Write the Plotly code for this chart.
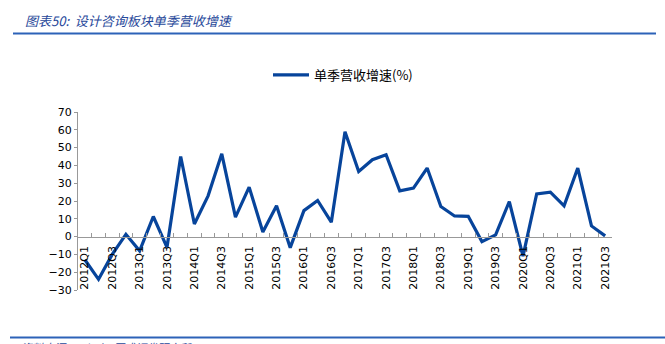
import plotly.graph_objects as go

quarters = [f"{y}Q{q}" for y in range(2012, 2022) for q in range(1, 5)][:39]
growth = [-13, -24, -10, 1.3, -8, 11.3, -6, 45, 7.1, 22.9, 46.5, 10.9, 27.8, 2.6,
          17.3, -6.2, 14.6, 20.3, 8.1, 58.9, 36.6, 43.2, 46, 25.7, 27.2, 38.5,
          16.9, 11.6, 11.4, -2.8, 1, 19.7, -11, 24, 25, 17.3, 38.5, 6, 0.4]
tick_labels = [q if i % 2 == 0 else "" for i, q in enumerate(quarters)]
series_name = "单季营收增速(%)"
title_text = "图表50:  设计咨询板块单季营收增速"
source_text = "资料来源：Wind，国盛证券研究所"

W, H = 665, 344
L, R, T, B = 78, 612, 112, 290
PW, PH = R - L, B - T

def px(x):
    return (x - L) / PW

def py(y):
    return (B - y) / PH

fig = go.Figure()
fig.add_trace(go.Scatter(
    x=quarters, y=growth, mode="lines", name=series_name,
    line=dict(color="#07449B", width=3.2),
))

axis_font = dict(family="DejaVu Sans, Verdana, sans-serif", size=11, color="#000000")
fig.update_layout(
    width=W, height=H,
    margin=dict(l=L, r=W - R, t=T, b=H - B),
    paper_bgcolor="white", plot_bgcolor="white",
    showlegend=True,
    legend=dict(orientation="h", x=px(268), y=py(75), xanchor="left", yanchor="middle",
                font=dict(family="Noto Sans CJK SC, sans-serif", size=13, color="#000"),
                bgcolor="rgba(0,0,0,0)", itemwidth=36),
    xaxis=dict(
        type="category", anchor="free", position=(0 - (-30)) / 100,
        tickmode="array", tickvals=quarters, ticktext=tick_labels,
        tickangle=-90, tickson="boundaries", ticks="inside", ticklen=4,
        tickcolor="#999999", showline=True, linecolor="#999999", linewidth=1,
        showgrid=False, zeroline=False, tickfont=axis_font, ticklabelstandoff=4,
        range=[-0.5, len(quarters) - 0.5],
    ),
    yaxis=dict(
        range=[-30, 70], dtick=10, tick0=0, ticks="outside", ticklen=3,
        tickcolor="#999999", showline=True, linecolor="#999999", linewidth=1,
        showgrid=False, zeroline=False, tickfont=axis_font,
    ),
)

fig.add_annotation(
    text=title_text, xref="paper", yref="paper", x=px(23), y=py(20),
    xanchor="left", yanchor="middle", showarrow=False,
    font=dict(family="Noto Sans CJK SC, sans-serif", size=13, color="#27489A", style="italic"),
)
fig.add_annotation(
    text=source_text, xref="paper", yref="paper", x=px(20), y=py(338),
    xanchor="left", yanchor="top", showarrow=False, borderpad=0,
    font=dict(family="Noto Sans CJK SC, sans-serif", size=11, color="#27489A", style="italic"),
)
fig.add_shape(type="line", xref="paper", yref="paper", x0=px(13), x1=px(656),
              y0=py(33.5), y1=py(33.5), line=dict(color="#2C62B8", width=2))
fig.add_shape(type="line", xref="paper", yref="paper", x0=px(10), x1=px(665),
              y0=py(337.5), y1=py(337.5), line=dict(color="#2C62B8", width=2))

fig.write_html("out.html")
